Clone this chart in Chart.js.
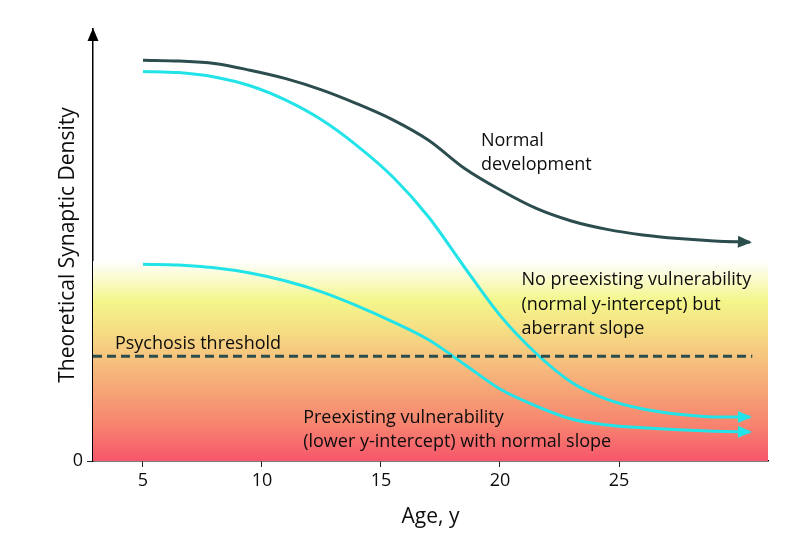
<!DOCTYPE html>
<html>
<head>
<meta charset="utf-8">
<script src="https://cdn.jsdelivr.net/npm/chart.js@4.4.1/dist/chart.umd.min.js"></script>
<style>
  html, body { margin: 0; padding: 0; background: #ffffff; }
  #wrap { width: 794px; height: 546px; position: relative; }
</style>
</head>
<body>
<div id="wrap"><canvas id="c" width="794" height="546"></canvas></div>
<script>
// ---- Data ----
const xTickValues = [5, 10, 15, 20, 25];
const yTickValues = [0];

const ages = [5, 6.5, 8, 9.5, 11, 12.5, 14, 15.5, 17, 18.5, 20, 21.5, 23, 24.5, 26, 27.5, 29, 30.5];

const normalDensity   = [100.2, 100.0, 99.4, 97.7, 95.6, 92.8, 89.3, 85.3, 80.2, 73.2, 67.8, 63.2, 60.0, 57.9, 56.5, 55.6, 55.0, 54.7];
const aberrantDensity = [97.4, 97.1, 96.0, 93.8, 90.2, 85.3, 78.8, 71.0, 61.0, 48.5, 36.4, 27.0, 19.7, 15.4, 13.0, 11.7, 11.0, 11.0];
const lowerDensity    = [49.2, 49.0, 48.3, 47.0, 45.0, 42.3, 38.8, 34.8, 30.3, 24.2, 18.0, 13.8, 10.5, 9.0, 8.3, 7.8, 7.45, 7.25];

const thresholdAges  = [2.9, 30.6];
const thresholdLevel = 26.2;

const riskZoneTop = 50;   // top of the coloured risk band (density units)

const annotations = [
  { lines: ["Normal", "development"], x: 19.2, y: 78.8 },
  { lines: ["No preexisting vulnerability", "(normal y-intercept) but", "aberrant slope"], x: 20.9, y: 44 },
  { lines: ["Psychosis threshold"], x: 3.82, y: 27.9 },
  { lines: ["Preexisting vulnerability", "(lower y-intercept) with normal slope"], x: 11.73, y: 9.6 }
];

// ---- styles ----
const DARK = '#2c4d4e';
const CYAN = '#22e3e8';
const FONT = '"Open Sans", "DejaVu Sans", sans-serif';
const TEXT = '#0d0d0d';

function pts(xs, ys) { return xs.map((x, i) => ({ x: x, y: ys[i] })); }

const gradientPlugin = {
  id: 'riskGradient',
  beforeDatasetsDraw(chart) {
    const { ctx, chartArea, scales } = chart;
    const yTop = scales.y.getPixelForValue(riskZoneTop);
    const yBot = scales.y.getPixelForValue(0);
    const g = ctx.createLinearGradient(0, yTop, 0, yBot);
    g.addColorStop(0.00, 'rgba(255,255,255,1)');
    g.addColorStop(0.08, '#fbfbd2');
    g.addColorStop(0.20, '#f4f68a');
    g.addColorStop(0.35, '#f5dd84');
    g.addColorStop(0.48, '#f6c47e');
    g.addColorStop(0.65, '#f6a476');
    g.addColorStop(0.82, '#f7836f');
    g.addColorStop(1.00, '#f6566b');
    ctx.save();
    ctx.fillStyle = g;
    ctx.fillRect(chartArea.left, yTop, chartArea.right - chartArea.left, yBot - yTop);
    ctx.restore();
  }
};

const arrowPlugin = {
  id: 'arrows',
  afterDatasetsDraw(chart) {
    const { ctx } = chart;
    chart.data.datasets.forEach((ds, i) => {
      if (!ds.arrowHead) return;
      const meta = chart.getDatasetMeta(i);
      const n = meta.data.length;
      const p1 = meta.data[n - 2], p2 = meta.data[n - 1];
      const ang = Math.atan2(p2.y - p1.y, p2.x - p1.x);
      const tipX = p2.x + 2 * Math.cos(ang), tipY = p2.y + 2 * Math.sin(ang);
      const len = 14, hw = 6;
      const bx = tipX - len * Math.cos(ang), by = tipY - len * Math.sin(ang);
      ctx.save();
      ctx.fillStyle = ds.borderColor;
      ctx.beginPath();
      ctx.moveTo(tipX, tipY);
      ctx.lineTo(bx + hw * Math.sin(ang), by - hw * Math.cos(ang));
      ctx.lineTo(bx - hw * Math.sin(ang), by + hw * Math.cos(ang));
      ctx.closePath();
      ctx.fill();
      ctx.restore();
    });
  }
};

const axisArrowPlugin = {
  id: 'axisArrow',
  afterDraw(chart) {
    const { ctx, chartArea } = chart;
    const x = chartArea.left, y = chartArea.top;
    ctx.save();
    ctx.fillStyle = '#000';
    ctx.beginPath();
    ctx.moveTo(x, y - 1);
    ctx.lineTo(x - 5.5, y + 12);
    ctx.lineTo(x + 5.5, y + 12);
    ctx.closePath();
    ctx.fill();
    ctx.restore();
  }
};

const labelPlugin = {
  id: 'labels',
  afterDraw(chart) {
    const { ctx, scales } = chart;
    ctx.save();
    ctx.fillStyle = TEXT;
    ctx.font = '18px ' + FONT;
    ctx.textAlign = 'left';
    ctx.textBaseline = 'alphabetic';
    annotations.forEach(a => {
      const px = scales.x.getPixelForValue(a.x);
      const py = scales.y.getPixelForValue(a.y);
      a.lines.forEach((t, k) => ctx.fillText(t, px, py + k * 24.5));
    });
    ctx.restore();
  }
};

new Chart(document.getElementById('c'), {
  type: 'line',
  data: {
    datasets: [
      { label: 'Psychosis threshold', data: pts(thresholdAges, thresholdAges.map(() => thresholdLevel)),
        borderColor: DARK, borderWidth: 3, borderDash: [9, 5], pointRadius: 0, tension: 0 },
      { label: 'Normal development', data: pts(ages, normalDensity),
        borderColor: DARK, borderWidth: 3, pointRadius: 0, cubicInterpolationMode: 'monotone', arrowHead: true },
      { label: 'Aberrant slope', data: pts(ages, aberrantDensity),
        borderColor: CYAN, borderWidth: 3, pointRadius: 0, cubicInterpolationMode: 'monotone', arrowHead: true },
      { label: 'Lower intercept', data: pts(ages, lowerDensity),
        borderColor: CYAN, borderWidth: 3, pointRadius: 0, cubicInterpolationMode: 'monotone', arrowHead: true }
    ]
  },
  options: {
    responsive: false,
    animation: false,
    devicePixelRatio: 1,
    layout: { padding: { top: 29, right: 26, left: 0, bottom: 0 } },
    plugins: { legend: { display: false }, tooltip: { enabled: false } },
    scales: {
      x: {
        type: 'linear', min: 2.9, max: 31.26,
        afterBuildTicks(s) { s.ticks = xTickValues.map(v => ({ value: v })); },
        afterFit(s) { s.height = 85; },
        grid: { display: true, drawOnChartArea: false, drawTicks: true, tickLength: 6, color: '#222', lineWidth: 1 },
        border: { display: true, color: '#000', width: 1.5 },
        ticks: { color: TEXT, font: { family: FONT, size: 18 }, padding: 3, maxRotation: 0 },
        title: { display: true, text: 'Age, y', color: TEXT, font: { family: FONT, size: 21 }, padding: { top: 4, bottom: 16 } }
      },
      y: {
        type: 'linear', min: 0, max: 108,
        afterBuildTicks(s) { s.ticks = yTickValues.map(v => ({ value: v })); },
        afterFit(s) { s.width = 93; },
        grid: { display: true, drawOnChartArea: false, drawTicks: true, tickLength: 6, color: '#222', lineWidth: 1 },
        border: { display: true, color: '#000', width: 1.5 },
        ticks: { color: TEXT, font: { family: FONT, size: 18 }, padding: 4 },
        title: { display: true, text: 'Theoretical Synaptic Density', color: TEXT, font: { family: FONT, size: 21 }, padding: { top: 55, bottom: 0 } }
      }
    }
  },
  plugins: [gradientPlugin, arrowPlugin, axisArrowPlugin, labelPlugin]
});
</script>
</body>
</html>
